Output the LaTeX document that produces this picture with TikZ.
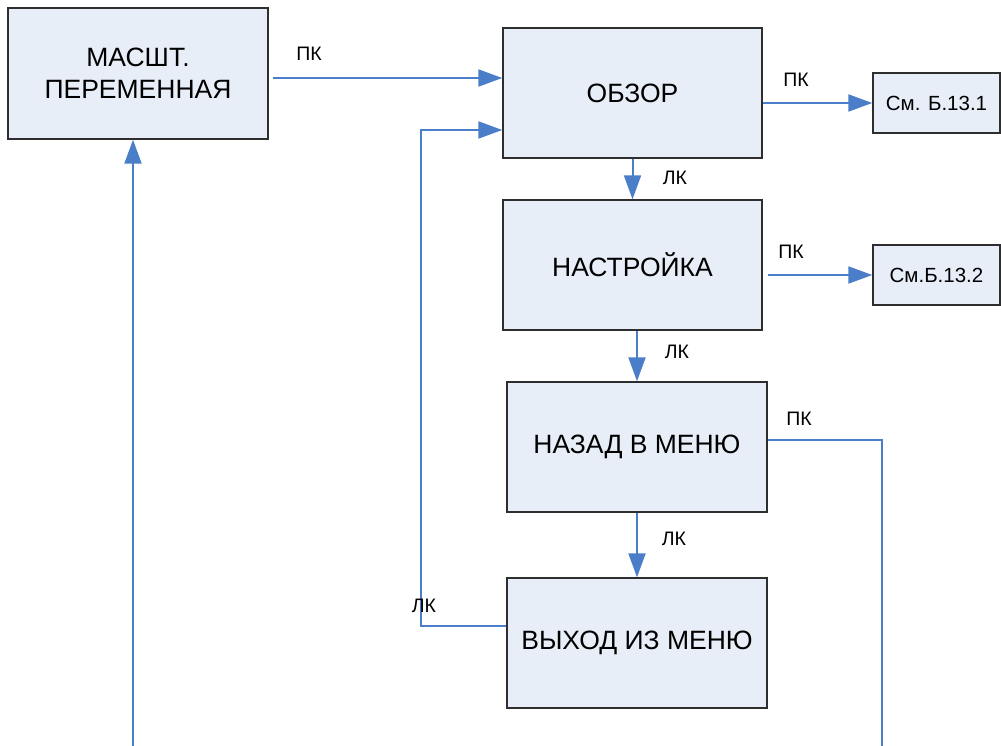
\documentclass[tikz,border=0pt]{standalone}
\usepackage{fontspec}
\setmainfont{Liberation Sans}
\usetikzlibrary{arrows.meta,calc}
\definecolor{lineblue}{HTML}{4A7EC8}
\definecolor{boxfill}{HTML}{E8EEF8}
\definecolor{boxdraw}{HTML}{2E2E2E}
\begin{document}
\begin{tikzpicture}[x=1pt,y=-1pt,
  bigbox/.style={draw=boxdraw,fill=boxfill,line width=1.4pt,rectangle,inner sep=0pt,
    minimum width=260pt,minimum height=130pt,align=center,
    font=\fontsize{26.5}{32}\selectfont},
  smallbox/.style={draw=boxdraw,fill=boxfill,line width=1.4pt,rectangle,inner sep=0pt,
    minimum width=127pt,minimum height=60pt,font=\fontsize{20.5}{24}\selectfont},
  conn/.style={draw=lineblue,line width=2pt},
  arr/.style={conn,-{Triangle[length=24pt,width=17pt]}},
  lbl/.style={font=\fontsize{19.5}{23}\selectfont,inner sep=0pt}]
\useasboundingbox (0,0) rectangle (1001,746);
\node[bigbox,minimum height=131pt] (m) at (138,73.5) {МАСШТ.\\ПЕРЕМЕННАЯ};
\node[bigbox,minimum width=259pt] (o) at (632.5,93) {ОБЗОР};
\node[smallbox] (s1) at (936.5,103) {См. Б.13.1};
\node[bigbox,minimum width=259pt] (n) at (632.5,265) {НАСТРОЙКА};
\node[smallbox] (s2) at (936.5,275) {См.Б.13.2};
\node[bigbox] (b) at (637,447) {НАЗАД В МЕНЮ};
\node[bigbox] (v) at (637,643) {ВЫХОД ИЗ МЕНЮ};
\coordinate (bl) at (133,746);
\coordinate (br) at (882,746);
% connectors
\draw[arr] ($(m.east)+(4,4.5)$) -- ($(o.west)+(0,-15)$);
\draw[arr] (o.east |- s1.west) -- (s1.west);
\draw[arr] (o.south) -- (n.north);
\draw[arr] ($(n.east |- s2.west)+(5,0)$) -- (s2.west);
\draw[arr] (b.north |- n.south) -- (b.north);
\draw[arr] (b.south) -- (v.north);
\draw[conn] ($(b.east)+(0,-7)$) -| (br);
\draw[arr] ($(v.west)+(0,-17)$) -| (421,130) -- ($(o.west)+(0,37)$);
\draw[arr] (bl) -- ($(m.south)+(-5,0)$);
% labels
\node[lbl] (l1) at (309,54) {ПК};
\node[lbl] (l2) at (796,80) {ПК};
\node[lbl] (l3) at (675,178) {ЛК};
\node[lbl] (l4) at (791,252) {ПК};
\node[lbl] (l5) at (677,352) {ЛК};
\node[lbl] (l6) at (799,419) {ПК};
\node[lbl] (l7) at (674,539) {ЛК};
\node[lbl] (l8) at (424,606) {ЛК};
\end{tikzpicture}
\end{document}
